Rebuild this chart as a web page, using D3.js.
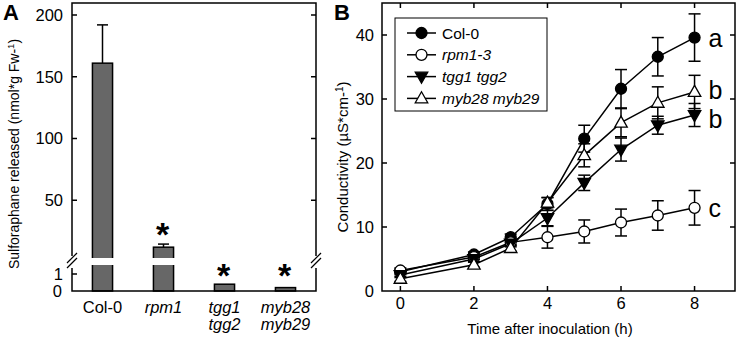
<!DOCTYPE html>
<html>
<head>
<meta charset="utf-8">
<script src="https://cdn.jsdelivr.net/npm/d3@7"></script>
<style>
  body { margin: 0; background: #fff; }
  svg text { font-family: "Liberation Sans", Arial, Helvetica, sans-serif; fill: #000; }
</style>
</head>
<body>
<svg id="chart" width="740" height="341"></svg>
<script>
// ---- panel A data ----
const genotypesA = ["Col-0", "rpm1", "tgg1|tgg2", "myb28|myb29"];
const italicA = [false, true, true, true];
const sulforaphane = [161, 12, 0.4, 0.2];
const sulforaphaneErr = [31, 2.5, 0.05, 0.03];
const starA = [false, true, true, true];
const highTicks = [50, 100, 150, 200];
const lowTicks = [0, 1];

// ---- panel B data ----
const hours = [0, 2, 3, 4, 5, 6, 7, 8];
const seriesNames = ["Col-0", "rpm1-3", "tgg1 tgg2", "myb28 myb29"];
const seriesMarks = ["circleFill", "circleOpen", "triDownFill", "triUpOpen"];
const colValues = [3.0, 5.7, 8.4, 13.6, 23.8, 31.6, 36.6, 39.6];
const colErr = [0.4, 0.4, 0.5, 1.0, 2.1, 3.0, 3.0, 3.7];
const rpmValues = [3.2, 5.3, 7.6, 8.4, 9.3, 10.7, 11.8, 13.0];
const rpmErr = [0.4, 0.4, 0.5, 1.7, 1.8, 2.1, 2.3, 2.7];
const tggValues = [2.5, 5.0, 7.4, 11.4, 16.9, 22.1, 25.9, 27.5];
const tggErr = [0.4, 0.4, 0.5, 1.2, 1.2, 1.8, 1.4, 1.8];
const mybValues = [1.9, 4.1, 6.7, 13.8, 21.2, 26.3, 29.4, 31.1];
const mybErr = [0.4, 0.4, 0.5, 0.8, 1.8, 2.2, 2.5, 2.6];
const sigLetters = ["a", "c", "b", "b"];
const xTicksB = [0, 2, 4, 6, 8];
const yTicksB = [0, 10, 20, 30, 40];

const svg = d3.select("#chart");
const lw = 1.5;

// ================= Panel A =================
const A = { left: 72, right: 316, top: 3, bottom: 291 };
const gA = svg.append("g");

const xA = d3.scaleBand().domain(genotypesA).range([A.left, A.right])
    .paddingInner(0.67).paddingOuter(0.335);
const yLow = d3.scaleLinear().domain([0, 1]).range([A.bottom, 274]);
const yHigh = d3.scaleLinear().domain([0, 200]).range([262, 15]);
const yA = v => v > 1.6 ? yHigh(v) : yLow(v);

const barsA = genotypesA.map((g, i) => ({ g, v: sulforaphane[i], e: sulforaphaneErr[i], star: starA[i], it: italicA[i] }));

// error bars (upper only)
barsA.forEach(d => {
    const cx = xA(d.g) + xA.bandwidth() / 2;
    if (d.v > 1.6) {
        gA.append("line").attr("x1", cx).attr("x2", cx)
            .attr("y1", yA(d.v)).attr("y2", yA(d.v + d.e))
            .attr("stroke", "#000").attr("stroke-width", lw);
        gA.append("line").attr("x1", cx - 5.5).attr("x2", cx + 5.5)
            .attr("y1", yA(d.v + d.e)).attr("y2", yA(d.v + d.e))
            .attr("stroke", "#000").attr("stroke-width", lw);
    }
});

gA.selectAll("rect.bar").data(barsA).enter().append("rect")
    .attr("class", "bar")
    .attr("x", d => xA(d.g))
    .attr("width", xA.bandwidth())
    .attr("y", d => yA(d.v))
    .attr("height", d => A.bottom - yA(d.v))
    .attr("fill", "#676767")
    .attr("stroke", "#000")
    .attr("stroke-width", lw);

// frame (with breaks on the sides)
const gapTop = 258, gapBot = 265;
gA.append("path")
    .attr("d", `M${A.left},${gapTop - 2}V${A.top}H${A.right}V${gapTop - 2}`
        + `M${A.left},${gapBot + 3}V${A.bottom}H${A.right}V${gapBot + 3}`)
    .attr("fill", "none").attr("stroke", "#000").attr("stroke-width", lw);

// white gap across the bars
gA.append("rect").attr("x", A.left + 2).attr("width", A.right - A.left - 4)
    .attr("y", gapTop).attr("height", gapBot - gapTop).attr("fill", "#fff");

// break marks
[A.left, A.right].forEach(x0 => {
    [-3, 2].forEach(off => {
        gA.append("line")
            .attr("x1", x0 - 5).attr("y1", 266 + off)
            .attr("x2", x0 + 5).attr("y2", 256 + off)
            .attr("stroke", "#000").attr("stroke-width", 1.2);
    });
});

// ticks & labels
highTicks.forEach(t => {
    const y = yHigh(t);
    gA.append("line").attr("x1", A.left).attr("x2", A.left + 5).attr("y1", y).attr("y2", y)
        .attr("stroke", "#000").attr("stroke-width", lw);
    gA.append("line").attr("x1", A.right).attr("x2", A.right - 5).attr("y1", y).attr("y2", y)
        .attr("stroke", "#000").attr("stroke-width", lw);
    gA.append("text").attr("x", A.left - 9).attr("y", y).attr("dy", "0.36em")
        .attr("text-anchor", "end").attr("font-size", 16.5).text(t);
});
lowTicks.forEach(t => {
    const y = yLow(t);
    if (t > 0) {
        gA.append("line").attr("x1", A.left).attr("x2", A.left + 5).attr("y1", y).attr("y2", y)
            .attr("stroke", "#000").attr("stroke-width", lw);
    }
    gA.append("text").attr("x", A.left - 9 - (t === 0 ? 1 : 0)).attr("y", y).attr("dy", "0.36em")
        .attr("text-anchor", "end").attr("font-size", 16.5).text(t);
});

// asterisks
barsA.filter(d => d.star).forEach(d => {
    const y = d.v > 1.6 ? yA(d.v + d.e) - 19 : yLow(1.45);
    gA.append("text").attr("x", xA(d.g) + xA.bandwidth() / 2 - 1).attr("y", y)
        .attr("text-anchor", "middle").attr("font-size", 34).attr("font-weight", "bold")
        .attr("dy", "0.62em").text("*");
});

// category labels
barsA.forEach(d => {
    const lines = d.g.split("|");
    const cx = xA(d.g) + xA.bandwidth() / 2;
    const t = gA.append("text").attr("x", cx)
        .attr("y", 313).attr("text-anchor", "middle").attr("font-size", 16.5)
        .attr("font-style", d.it ? "italic" : "normal");
    lines.forEach((s, k) => t.append("tspan").attr("x", cx)
        .attr("dy", k === 0 ? 0 : 17).text(s));
});

// y label A
gA.append("text").attr("transform", `translate(19,154) rotate(-90)`)
    .attr("text-anchor", "middle").attr("font-size", 14)
    .html("Sulforaphane released (nmol*g Fw-<tspan dy='-5' font-size='9.5'>1</tspan><tspan dy='5'>)</tspan>");

svg.append("text").attr("x", 3).attr("y", 20).attr("font-size", 22).attr("font-weight", "bold").text("A");

// ================= Panel B =================
const B = { left: 382, right: 735, top: 3, bottom: 291 };
const gB = svg.append("g");
const xB = d3.scaleLinear().domain([-0.5, 9.1]).range([B.left, B.right]);
const yB = d3.scaleLinear().domain([0, 45]).range([B.bottom, B.top]);

gB.append("rect").attr("x", B.left).attr("y", B.top)
    .attr("width", B.right - B.left).attr("height", B.bottom - B.top)
    .attr("fill", "none").attr("stroke", "#000").attr("stroke-width", lw);

xTicksB.forEach(t => {
    const x = xB(t);
    gB.append("line").attr("x1", x).attr("x2", x).attr("y1", B.bottom).attr("y2", B.bottom - 5)
        .attr("stroke", "#000").attr("stroke-width", lw);
    gB.append("line").attr("x1", x).attr("x2", x).attr("y1", B.top).attr("y2", B.top + 5)
        .attr("stroke", "#000").attr("stroke-width", lw);
    gB.append("text").attr("x", x).attr("y", B.bottom + 18).attr("text-anchor", "middle")
        .attr("font-size", 16.5).text(t);
});
yTicksB.forEach(t => {
    const y = yB(t);
    if (t > 0) {
        gB.append("line").attr("x1", B.left).attr("x2", B.left + 5).attr("y1", y).attr("y2", y)
            .attr("stroke", "#000").attr("stroke-width", lw);
        gB.append("line").attr("x1", B.right).attr("x2", B.right - 5).attr("y1", y).attr("y2", y)
            .attr("stroke", "#000").attr("stroke-width", lw);
    }
    gB.append("text").attr("x", B.left - 8).attr("y", y).attr("dy", "0.36em")
        .attr("text-anchor", "end").attr("font-size", 16.5).text(t);
});

const seriesB = [
    { name: seriesNames[0], mark: seriesMarks[0], v: colValues, e: colErr, letter: sigLetters[0], dy: 0 },
    { name: seriesNames[1], mark: seriesMarks[1], v: rpmValues, e: rpmErr, letter: sigLetters[1], dy: 0 },
    { name: seriesNames[2], mark: seriesMarks[2], v: tggValues, e: tggErr, letter: sigLetters[2], dy: 4 },
    { name: seriesNames[3], mark: seriesMarks[3], v: mybValues, e: mybErr, letter: sigLetters[3], dy: -2 }
];

function drawMarker(g, kind, x, y) {
    const fill = kind.endsWith("Fill") ? "#000" : "#fff";
    if (kind.startsWith("circle")) {
        g.append("circle").attr("cx", x).attr("cy", y).attr("r", 5.5)
            .attr("fill", fill).attr("stroke", "#000").attr("stroke-width", 1.3);
    } else {
        const s = kind.startsWith("triDown") ? -1 : 1;
        const h = 11, w = 12.5;
        g.append("path")
            .attr("d", `M${x},${y - s * h * 0.6}L${x + w / 2},${y + s * h * 0.4}L${x - w / 2},${y + s * h * 0.4}Z`)
            .attr("fill", fill).attr("stroke", "#000").attr("stroke-width", 1.3);
    }
}

const line = d3.line().x((d, i) => xB(hours[i])).y(d => yB(d));

// error bars
seriesB.forEach(s => {
    hours.forEach((h, i) => {
        const x = xB(h), y1 = yB(s.v[i] - s.e[i]), y2 = yB(s.v[i] + s.e[i]);
        gB.append("line").attr("x1", x).attr("x2", x).attr("y1", y1).attr("y2", y2)
            .attr("stroke", "#000").attr("stroke-width", lw);
        [y1, y2].forEach(yy => gB.append("line").attr("x1", x - 6).attr("x2", x + 6)
            .attr("y1", yy).attr("y2", yy).attr("stroke", "#000").attr("stroke-width", lw));
    });
});
// lines
seriesB.forEach(s => {
    gB.append("path").datum(s.v).attr("d", line)
        .attr("fill", "none").attr("stroke", "#000").attr("stroke-width", lw);
});
// markers
seriesB.forEach(s => {
    hours.forEach((h, i) => drawMarker(gB, s.mark, xB(h), yB(s.v[i])));
});
// significance letters
seriesB.forEach(s => {
    gB.append("text").attr("x", xB(8) + 14).attr("y", yB(s.v[7]) + s.dy).attr("dy", "0.36em")
        .attr("font-size", 25).text(s.letter);
});

// legend
const lg = gB.append("g");
lg.append("rect").attr("x", 395).attr("y", 18).attr("width", 152).attr("height", 93)
    .attr("fill", "#fff").attr("stroke", "#000").attr("stroke-width", 1);
seriesB.forEach((s, i) => {
    const y = 33 + i * 21.8;
    lg.append("line").attr("x1", 407).attr("x2", 436).attr("y1", y).attr("y2", y)
        .attr("stroke", "#000").attr("stroke-width", lw);
    drawMarker(lg, s.mark, 421.5, y);
    lg.append("text").attr("x", 442).attr("y", y).attr("dy", "0.36em").attr("font-size", 15.5)
        .attr("font-style", i === 0 ? "normal" : "italic").text(s.name);
});

// axis labels B
gB.append("text").attr("x", 550).attr("y", 334).attr("text-anchor", "middle")
    .attr("font-size", 15).text("Time after inoculation (h)");
gB.append("text").attr("transform", `translate(348,157) rotate(-90)`)
    .attr("text-anchor", "middle").attr("font-size", 15)
    .html("Conductivity (µS*cm-<tspan dy='-5' font-size='10'>1</tspan><tspan dy='5'>)</tspan>");

svg.append("text").attr("x", 334).attr("y", 20).attr("font-size", 22).attr("font-weight", "bold").text("B");
</script>
</body>
</html>
